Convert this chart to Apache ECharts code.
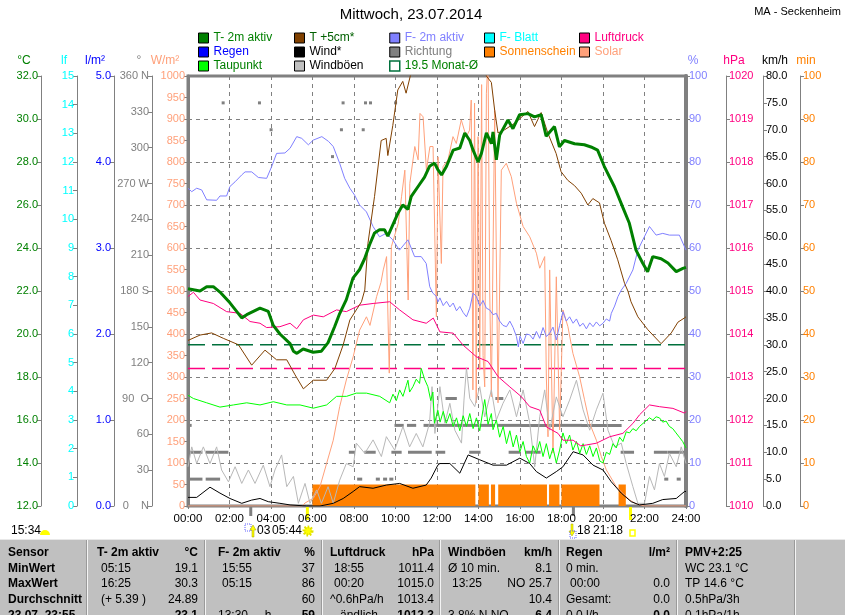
<!DOCTYPE html>
<html>
<head>
<meta charset="utf-8">
<script src="https://cdn.jsdelivr.net/npm/echarts@6.0.0/dist/echarts.min.js"></script>
<style>html,body{margin:0;padding:0;background:#fff}#chart{width:845px;height:615px}</style>
</head>
<body>
<div id="chart"></div>
<script>
const FONT = '"Liberation Sans", Arial, sans-serif';

// Messwerte 23.07.2014, Zeit in Stunden
const t2m = [[0,22.1],[0.58,22.0],[0.9,22.2],[1.22,22.2],[1.54,21.95],[2.02,21.45],[2.59,20.75],[2.83,20.9],[3.47,21.2],[3.87,21.05],[4.11,20.4],[4.43,20.0],[4.92,19.55],[5.08,19.2],[5.25,19.1],[5.55,19.3],[6.03,19.15],[6.43,19.2],[6.75,19.6],[7.07,20.35],[7.31,20.95],[7.63,21.6],[7.95,22.6],[8.27,23.0],[8.51,23.5],[8.75,24.15],[8.99,24.7],[9.23,24.85],[9.47,24.85],[9.63,24.55],[9.79,24.9],[10.11,25.6],[10.35,26.0],[10.6,25.8],[10.76,26.4],[11.08,26.85],[11.4,27.3],[11.64,27.8],[11.88,27.95],[12.04,27.65],[12.22,27.4],[12.46,27.8],[12.78,28.55],[13.1,28.65],[13.34,29.35],[13.58,29.0],[13.74,28.55],[13.98,28.0],[14.14,28.4],[14.38,29.35],[14.62,28.85],[14.7,29.4],[14.86,28.1],[15.02,29.25],[15.42,29.95],[15.66,29.55],[15.98,30.2],[16.38,30.25],[16.42,30.3],[16.7,30.1],[17.02,30.2],[17.26,29.2],[17.66,29.65],[17.9,28.7],[18.14,29.0],[18.63,28.85],[19.1,28.8],[19.42,28.7],[19.74,28.55],[20.06,27.8],[20.55,26.85],[20.95,25.9],[21.27,25.15],[21.59,23.9],[21.91,23.3],[22.15,22.9],[22.4,23.6],[22.8,23.5],[23.13,23.3],[23.53,22.9],[23.85,23.05],[24,23.1]];
const t5cm = [[0,19.7],[0.58,19.95],[1.14,20.05],[1.7,19.8],[2.43,19.5],[3.07,18.55],[3.71,19.25],[4.27,18.8],[4.76,18.8],[5.16,18.1],[5.56,17.45],[6.04,17.85],[6.68,17.85],[7.08,18.4],[7.48,19.5],[7.8,20.65],[8.36,21.5],[8.52,22.05],[8.67,24.2],[8.99,26.4],[9.31,29.0],[9.55,29.1],[9.63,28.3],[9.87,29.7],[10.11,31.35],[10.35,31.75],[10.51,31.2],[10.84,32.5],[11.5,34.5],[12.5,36.0],[13.5,35.0],[14.2,32.6],[14.38,32.0],[14.62,31.7],[14.78,30.4],[14.94,29.35],[15.26,29.5],[15.74,29.8],[16.38,30.35],[16.7,29.65],[17.02,30.3],[17.34,29.35],[17.74,28.4],[17.98,27.55],[18.3,27.15],[18.63,26.9],[18.95,26.55],[19.27,26.0],[19.51,26.3],[19.83,26.1],[20.07,25.15],[20.39,24.35],[20.71,23.45],[21.04,22.35],[21.2,22.0],[21.35,21.5],[21.68,20.8],[22.16,20.2],[22.8,19.55],[23.29,20.05],[23.61,20.55],[23.93,20.75],[24,20.8]];
const taupunkt = [[0,17.15],[0.26,17.0],[0.9,16.8],[1.54,16.6],[2.19,16.7],[2.83,16.8],[3.47,16.7],[4.11,16.85],[4.76,16.7],[5.4,16.7],[6.04,16.55],[6.68,16.7],[7.16,17.1],[7.64,17.1],[8.11,17.25],[8.6,17.25],[9.24,17.1],[9.72,16.8],[9.88,17.2],[10.04,16.9],[10.2,17.4],[10.36,17.1],[10.52,17.6],[10.6,17.85],[10.68,17.3],[10.84,17.55],[11.0,17.9],[11.16,17.7],[11.24,18.4],[11.4,17.9],[11.56,17.55],[11.7,16.9],[11.8,17.3],[11.88,15.85],[12.04,16.45],[12.15,15.9],[12.3,16.4],[12.45,15.85],[12.62,16.3],[12.78,15.7],[12.94,16.1],[13.1,15.5],[13.26,16.2],[13.42,15.7],[13.58,16.3],[13.74,15.6],[13.9,16.1],[14.06,15.5],[14.22,16.5],[14.3,16.95],[14.46,15.8],[14.62,16.3],[14.7,15.55],[14.86,16.0],[15.02,15.2],[15.19,15.7],[15.35,14.9],[15.51,15.5],[15.67,14.75],[15.83,15.3],[15.99,14.5],[16.15,15.0],[16.31,14.3],[16.47,14.0],[16.63,14.8],[16.79,14.45],[16.95,15.0],[17.11,14.3],[17.27,14.9],[17.43,14.2],[17.59,14.7],[17.75,14.0],[17.91,14.6],[18.07,15.4],[18.23,14.9],[18.39,15.3],[18.55,14.6],[18.72,15.0],[18.88,14.45],[19.04,14.9],[19.2,14.4],[19.36,14.8],[19.52,14.3],[19.68,14.7],[19.84,14.1],[20.0,14.0],[20.16,14.5],[20.32,14.4],[20.48,14.9],[20.64,14.7],[20.8,15.2],[20.96,15.0],[21.12,15.45],[21.28,15.4],[21.44,15.6],[21.6,15.5],[21.76,15.7],[22.0,15.9],[22.24,16.1],[22.4,16.0],[22.56,16.15],[22.72,16.1],[22.88,15.9],[23.04,15.95],[23.2,15.7],[23.36,15.6],[23.52,15.4],[23.68,15.2],[23.84,15.0],[24,14.7]];
const feuchte = [[0,73.9],[0.18,73.1],[0.42,73.9],[0.66,73.5],[0.9,71.2],[1.38,71.1],[1.54,72.1],[1.86,72.1],[2.02,74.3],[2.27,75.4],[2.59,77.0],[2.75,77.7],[3.07,77.7],[3.39,76.4],[3.79,76.2],[4.03,78.9],[4.27,82.0],[4.67,82.1],[4.92,83.2],[5.24,85.9],[5.48,85.5],[5.8,84.0],[6.04,85.1],[6.45,85.9],[6.77,84.8],[7.0,83.6],[7.31,79.7],[7.55,76.2],[7.8,73.9],[8.03,72.3],[8.27,70.0],[8.6,68.4],[8.92,65.0],[9.23,62.6],[9.55,63.4],[9.87,61.9],[10.19,59.5],[10.6,61.9],[10.92,58.0],[11.24,58.0],[11.48,56.4],[11.65,51.0],[11.8,49.5],[11.96,48.8],[12.05,47.5],[12.14,48.4],[12.3,46.6],[12.46,47.6],[12.62,46.3],[12.78,47.2],[12.94,45.4],[13.1,46.4],[13.26,45.0],[13.42,44.0],[13.58,46.0],[13.74,49.5],[13.9,48.7],[14.06,46.5],[14.22,47.8],[14.38,46.0],[14.54,45.6],[14.7,44.5],[14.86,44.8],[15.02,43.0],[15.18,42.0],[15.35,41.7],[15.51,43.0],[15.67,41.5],[15.83,39.4],[15.92,37.0],[16.0,39.5],[16.15,37.8],[16.31,40.0],[16.47,39.8],[16.63,38.8],[16.79,40.6],[16.95,39.0],[17.11,41.5],[17.27,39.4],[17.43,40.2],[17.59,41.6],[17.75,38.6],[17.91,42.0],[18.07,45.2],[18.23,43.0],[18.39,44.0],[18.56,42.5],[18.72,43.5],[18.88,41.8],[19.04,42.5],[19.2,41.2],[19.36,42.6],[19.52,41.7],[19.68,42.8],[19.84,41.9],[20.0,42.5],[20.16,43.5],[20.32,43.0],[20.4,44.8],[20.56,46.5],[20.72,48.7],[20.88,50.2],[21.12,51.8],[21.44,54.9],[21.68,59.5],[21.92,61.9],[22.24,65.0],[22.56,63.0],[22.88,63.4],[23.2,63.0],[23.68,63.0],[24,59.5]];
const luftdruck = [[0,1014.87],[0.26,1014.97],[0.58,1014.79],[1.22,1014.71],[1.86,1014.52],[2.51,1014.48],[2.99,1014.29],[3.47,1014.25],[3.79,1014.15],[4.43,1014.17],[4.92,1014.25],[5.24,1014.12],[5.56,1014.33],[6.04,1014.44],[6.52,1014.4],[7.16,1014.56],[7.63,1014.52],[8.27,1014.67],[8.92,1014.71],[9.72,1014.75],[10.2,1014.56],[10.84,1014.33],[11.48,1014.25],[11.82,1014.37],[12.14,1014.05],[12.78,1014.02],[13.26,1013.74],[13.9,1013.47],[14.46,1013.36],[14.94,1013.01],[15.51,1012.77],[16.07,1012.54],[16.47,1012.31],[16.95,1012.23],[17.27,1011.84],[17.83,1011.69],[18.07,1011.53],[18.56,1011.53],[18.92,1011.4],[19.2,1011.42],[19.68,1011.46],[20.32,1011.61],[20.96,1011.69],[21.44,1011.92],[21.76,1012.12],[22.24,1012.35],[22.72,1012.31],[23.37,1012.27],[23.93,1012.16],[24,1012.2]];
const wind = [[0,1.6],[0.42,1.6],[1.06,3.5],[1.54,2.4],[2.02,1.4],[2.59,0.5],[3.07,1.1],[3.47,1.4],[3.87,0.8],[4.43,0.5],[4.92,0.2],[5.72,0],[6.36,0],[7.0,0.5],[7.48,1.4],[7.96,2.7],[8.27,3.6],[8.92,3.3],[9.56,3.9],[10.2,4.2],[10.84,3.3],[11.48,3.9],[11.72,5.2],[12.04,7.6],[12.14,7.9],[12.62,7.9],[13.1,6.1],[13.5,9.5],[14.06,8.6],[14.7,7.6],[15.35,7.6],[15.99,8.9],[16.47,7.9],[16.79,6.4],[17.27,5.2],[17.75,6.4],[18.07,7.3],[18.56,10.1],[19.04,9.5],[19.52,7.6],[20.0,6.7],[20.4,4.5],[20.88,2.4],[21.36,0.8],[21.76,0.2],[22.4,0.5],[22.88,1.2],[23.53,1.4],[23.93,2.7],[24,2.7]];
const windboeen = [[0,7.3],[0.18,11.0],[0.42,7.9],[0.74,11.0],[1.06,7.9],[1.38,11.0],[1.62,6.7],[1.95,4.5],[2.27,7.3],[2.59,4.2],[2.91,6.7],[3.23,4.2],[3.63,7.6],[3.95,3.6],[4.19,6.7],[4.51,9.5],[4.76,3.6],[5.08,5.5],[5.32,0.5],[5.64,4.2],[5.88,0.5],[6.2,3.0],[6.43,0.5],[6.75,3.6],[7.0,0.5],[7.31,4.8],[7.63,7.9],[7.96,7.3],[8.11,11.7],[8.52,9.8],[8.92,12.3],[9.32,9.2],[9.56,12.9],[9.96,10.4],[10.36,14.8],[10.68,11.0],[11.0,13.5],[11.32,11.0],[11.64,15.4],[11.76,22.2],[11.9,13.5],[12.14,22.2],[12.38,15.4],[12.62,19.1],[12.86,14.1],[13.18,11.7],[13.3,19.7],[13.42,25.7],[13.58,20.0],[13.82,18.5],[14.06,22.2],[14.3,16.6],[14.62,21.6],[14.86,16.0],[15.18,19.1],[15.51,21.6],[15.83,16.6],[16.15,21.6],[16.47,15.4],[16.71,7.3],[16.95,16.6],[17.19,21.6],[17.43,14.1],[17.75,20.3],[18.07,16.6],[18.39,19.7],[18.72,23.4],[19.04,17.9],[19.36,14.1],[19.68,17.9],[20.0,21.0],[20.24,14.1],[20.56,11.0],[20.88,11.7],[21.12,7.9],[21.44,3.6],[21.68,0.5],[22.0,0.5],[22.24,5.5],[22.48,3.0],[22.72,7.9],[22.96,5.5],[23.2,9.8],[23.53,7.3],[23.77,11.0],[24,7.9]];
const solar = [[0,0],[5.5,0],[5.64,7],[6.04,18],[6.36,45],[6.68,99],[7.0,153],[7.31,231],[7.63,293],[7.96,347],[8.27,409],[8.6,440],[8.77,420],[9.09,487],[9.3,520],[9.41,549],[9.57,580],[9.7,309],[9.8,603],[10.13,657],[10.29,719],[10.45,781],[10.61,479],[10.69,750],[10.93,836],[11.09,805],[11.18,913],[11.33,905],[11.49,781],[11.66,836],[11.81,836],[11.97,440],[12.05,812],[12.21,564],[12.29,789],[12.53,805],[12.77,859],[12.93,843],[13.17,898],[13.41,859],[13.57,874],[13.65,944],[13.73,270],[13.81,937],[13.89,240],[13.98,859],[14.06,316],[14.15,980],[14.22,350],[14.3,277],[14.38,960],[14.46,1040],[14.54,500],[14.62,254],[14.78,921],[14.94,240],[15.1,781],[15.34,797],[15.58,766],[15.83,704],[16.15,650],[16.47,626],[16.79,588],[16.95,553],[17.19,580],[17.27,300],[17.35,161],[17.43,549],[17.59,123],[17.75,533],[17.91,177],[18.07,456],[18.31,417],[18.55,355],[18.87,301],[19.11,247],[19.36,192],[19.68,153],[19.92,115],[20.16,84],[20.64,45],[21.28,14],[21.6,5],[22.0,0],[24,0]];
// Windrichtung: [von, bis, Grad]
const richtung = [[0.0,0.08,67.5],[0.08,0.6,45],[0.9,1.85,45],[0.08,0.6,22.5],[0.9,1.45,22.5],[1.67,1.67,337.5],[3.42,3.42,337.5],[3.98,3.98,315],[6.94,6.94,292.5],[7.37,7.37,315],[7.45,7.45,337.5],[7.8,7.95,45],[8.55,8.95,45],[9.85,10.2,45],[10.65,11.65,45],[8.2,8.3,22.5],[9.1,9.15,22.5],[9.45,9.5,22.5],[9.75,9.8,22.5],[8.42,8.42,315],[8.53,8.53,337.5],[8.77,8.77,337.5],[9.98,9.98,337.5],[10.0,10.3,67.5],[10.6,10.9,67.5],[11.4,12.0,67.5],[12.1,12.9,67.5],[13.0,13.9,67.5],[14.1,14.7,67.5],[14.95,16.0,67.5],[16.1,17.6,67.5],[17.7,18.9,67.5],[19.0,20.8,67.5],[11.98,12.3,45],[13.6,14.0,45],[15.5,15.9,45],[16.3,16.9,45],[20.9,21.4,45],[22.5,23.0,45],[23.15,23.7,45],[23.85,24.0,45],[12.46,12.86,90],[14.86,15.1,90],[23.0,23.05,22.5],[23.6,23.65,22.5]];
// Sonnenschein: [von, bis, min je 5 min]
const sonne = [[6.0,13.85,5],[14.0,14.5,5],[14.6,14.8,5],[14.95,17.3,5],[17.4,17.9,5],[18.0,19.83,5],[20.75,21.1,5]];
const monatMittelT = 19.5;
const monatMittelP = 1013.2;
const sunRise = 5.73, sunSet = 21.3, moonRise = 3.0, moonSet = 18.55;

const dirLabels = {0: '0    N', 90: '90  O', 180: '180 S', 270: '270 W', 360: '360 N'};

const tabHead = ['Sensor', ['T- 2m aktiv', '°C'], ['F- 2m aktiv', '%'], ['Luftdruck', 'hPa'], ['Windböen', 'km/h'], ['Regen', 'l/m²'], 'PMV+2:25'];
const tabRows = [
  ['MinWert', ['05:15', '19.1'], ['15:55', '37'], ['18:55', '1011.4'], ['Ø 10 min.', '8.1'], ['0 min.', ''], 'WC 23.1 °C'],
  ['MaxWert', ['16:25', '30.3'], ['05:15', '86'], ['00:20', '1015.0'], ['13:25', 'NO 25.7'], ['00:00', '0.0'], 'TP 14.6 °C'],
  ['Durchschnitt', ['(+ 5.39 )', '24.89'], ['', '60'], ['^0.6hPa/h', '1013.4'], ['', '10.4'], ['Gesamt:', '0.0'], '0.5hPa/3h'],
  ['23.07. 23:55', ['', '23.1'], ['13:30  ...h', '59'], ['...ändlich', '1012.3'], ['3.8% N NO', '6.4'], ['0.0 l/h', '0.0'], '0.1hPa/1h']
];

const chart = echarts.init(document.getElementById('chart'));

function yAx(o) {
  return {
    type: 'value', position: o.pos, offset: o.off, min: o.min, max: o.max, interval: o.step,
    axisLine: {show: true, onZero: false, lineStyle: {color: '#808080', width: o.lw || 1}},
    axisTick: {show: true, length: 4, lineStyle: {color: '#808080'}},
    axisLabel: {color: o.color, fontFamily: FONT, fontSize: 11, margin: 3, formatter: o.fmt || (v => String(v))},
    splitLine: {show: !!o.split, lineStyle: {color: '#808080', type: [4, 4]}}
  };
}

function line(name, data, y, color, width, extra) {
  return Object.assign({
    name: name, type: 'line', data: data, yAxisIndex: y, symbol: 'none',
    lineStyle: {color: color, width: width || 1}, itemStyle: {color: color}
  }, extra || {});
}

const legendCols = [
  [['T- 2m aktiv', '#008000', '#008000'], ['Regen', '#0000FF', '#0000FF'], ['Taupunkt', '#00FF00', '#008000']],
  [['T +5cm*', '#804000', '#006000'], ['Wind*', '#000000', '#000000'], ['Windböen', '#C0C0C0', '#000000']],
  [['F- 2m aktiv', '#8080FF', '#8080FF'], ['Richtung', '#808080', '#808080'], ['19.5 Monat-Ø', null, '#008000']],
  [['F- Blatt', '#00FFFF', '#00FFFF'], ['Sonnenschein', '#FF8000', '#FF8000']],
  [['Luftdruck', '#FF0080', '#FF0080'], ['Solar', '#FFA07A', '#FFA07A']]
];
const legendX = [198, 294, 389, 484, 579];

const fmtH = v => String(v).padStart(2, '0') + ':00';

chart.setOption({
  animation: false,
  backgroundColor: '#fff',
  textStyle: {fontFamily: FONT},
  grid: {left: 188, right: 159, top: 76, bottom: 109, show: true, borderColor: '#808080', borderWidth: 3},
  legend: legendCols.map((col, i) => ({
    left: legendX[i], top: 31, orient: 'vertical', padding: 0, itemGap: 0,
    itemWidth: 10, itemHeight: 10, icon: 'rect', selectedMode: false,
    textStyle: {fontFamily: FONT, fontSize: 12, lineHeight: 14},
    data: col.map(c => ({
      name: c[0],
      itemStyle: c[1] ? {color: c[1], borderColor: '#000', borderWidth: 1} : {color: 'rgba(0,0,0,0)', borderColor: '#00703C', borderWidth: 1.5},
      textStyle: {color: c[2]}
    }))
  })),
  xAxis: {
    type: 'value', min: 0, max: 24, interval: 2,
    axisLine: {onZero: false, lineStyle: {color: '#808080', width: 2}},
    axisTick: {show: true, length: 3, lineStyle: {color: '#808080'}},
    axisLabel: {color: '#000', fontFamily: FONT, fontSize: 11.5, margin: 7, formatter: fmtH},
    splitLine: {show: true, lineStyle: {color: '#808080', type: [4, 4]}}
  },
  yAxis: [
    yAx({pos: 'left', off: 147, min: 12, max: 32, step: 2, color: '#008000', fmt: v => v.toFixed(1)}),
    yAx({pos: 'left', off: 111, min: 0, max: 15, step: 1, color: '#00FFFF'}),
    yAx({pos: 'left', off: 74, min: 0, max: 5, step: 1, color: '#0000FF', fmt: v => v.toFixed(1)}),
    yAx({pos: 'left', off: 36, min: 0, max: 360, step: 30, color: '#808080', fmt: v => dirLabels[v] || String(v)}),
    yAx({pos: 'left', off: 0, min: 0, max: 1000, step: 50, color: '#FFA07A', lw: 3}),
    yAx({pos: 'right', off: 0, min: 0, max: 100, step: 10, color: '#8080FF', lw: 4, split: true}),
    yAx({pos: 'right', off: 40, min: 1010, max: 1020, step: 1, color: '#FF0080'}),
    yAx({pos: 'right', off: 77, min: 0, max: 80, step: 5, color: '#000000', fmt: v => v.toFixed(1)}),
    yAx({pos: 'right', off: 114, min: 0, max: 100, step: 10, color: '#FF8000'})
  ],
  series: [
    {
      name: 'Sonnenschein', type: 'custom', yAxisIndex: 8, data: sonne, encode: {x: [0, 1], y: 2},
      itemStyle: {color: '#FF8000'},
      renderItem: (params, api) => {
        const a = api.coord([api.value(0), api.value(2)]);
        const b = api.coord([api.value(1), 0]);
        return {type: 'rect', shape: {x: a[0], y: a[1], width: b[0] - a[0], height: b[1] - a[1]}, style: {fill: '#FF8000'}};
      }
    },
    line('Regen', [], 2, '#0000FF'),
    line('F- Blatt', [], 5, '#00FFFF'),
    line('19.5 Monat-Ø', [[0, monatMittelT], [24, monatMittelT]], 0, '#00703C', 1.5, {lineStyle: {color: '#00703C', width: 1.5, type: [17, 7]}}),
    line('Luftdruck Monat-Ø', [[0, monatMittelP], [24, monatMittelP]], 6, '#FF0080', 1.5, {lineStyle: {color: '#FF0080', width: 1.5, type: [17, 7]}}),
    line('Solar', solar, 4, '#FFA07A'),
    {
      name: 'Richtung', type: 'custom', yAxisIndex: 3, data: richtung, encode: {x: [0, 1], y: 2},
      itemStyle: {color: '#808080'},
      renderItem: (params, api) => {
        const a = api.coord([api.value(0), api.value(2)]);
        const b = api.coord([api.value(1), api.value(2)]);
        return {type: 'rect', shape: {x: a[0] - 1, y: a[1] - 1.5, width: Math.max(b[0] - a[0], 0) + 3, height: 3}, style: {fill: '#808080'}};
      }
    },
    line('Windböen', windboeen, 7, '#B8B8B8'),
    line('Wind*', wind, 7, '#000000'),
    line('Taupunkt', taupunkt, 0, '#00FF00'),
    line('Luftdruck', luftdruck, 6, '#FF0080'),
    line('F- 2m aktiv', feuchte, 5, '#8080FF'),
    line('T +5cm*', t5cm, 0, '#804000'),
    line('T- 2m aktiv', t2m, 0, '#008000', 3)
  ]
});

// Beschriftungen, Auf-/Untergang und Tabelle
const px = h => chart.convertToPixel({xAxisIndex: 0}, h);
const yBase = chart.convertToPixel({yAxisIndex: 0}, 12);
const f12 = '12px ' + FONT, b12 = 'bold 12px ' + FONT;
const g = [];
const txt = (text, x, y, fill, font, align) => g.push({type: 'text', x: x, y: y, silent: true,
  style: {text: text, fill: fill || '#000', font: font || f12, align: align || 'left', verticalAlign: 'middle'}});

txt('Mittwoch, 23.07.2014', 411, 15, '#000', '15px ' + FONT, 'center');
txt('MA - Seckenheim', 841, 12, '#000', '11px ' + FONT, 'right');

[['°C', 24, '#008000'], ['lf', 64, '#00FFFF'], ['l/m²', 95, '#0000FF'], ['°', 139, '#808080'], ['W/m²', 165, '#FFA07A'],
 ['%', 693, '#8080FF'], ['hPa', 734, '#FF0080'], ['km/h', 775, '#000'], ['min', 806, '#FF8000']]
  .forEach(n => txt(n[0], n[1], 61, n[2], f12, 'center'));

// Mond/Sonne Markierungen an der Zeitachse
[[moonRise, '#808080'], [moonSet, '#808080'], [sunRise, '#FFFF00'], [sunSet, '#FFFF00']].forEach(m => {
  g.push({type: 'rect', silent: true, shape: {x: px(m[0]) - 1, y: yBase, width: 3, height: m[1] === '#808080' ? 10 : 14}, style: {fill: m[1]}});
});
txt('15:34', 11, 531);
g.push({type: 'sector', silent: true, shape: {cx: 45, cy: 535, r: 5, startAngle: Math.PI, endAngle: 2 * Math.PI}, style: {fill: '#FFFF00'}});
// Mondaufgang / Sonnenaufgang
g.push({type: 'rect', silent: true, shape: {x: 245, y: 524, width: 6, height: 7}, style: {fill: 'none', stroke: '#6060FF', lineWidth: 1, lineDash: [1, 1]}});
g.push({type: 'polygon', silent: true, shape: {points: [[250, 530], [253, 525], [256, 530], [254, 530], [254, 537], [252, 537], [252, 530]]}, style: {fill: '#FFFF00', stroke: '#A0A000', lineWidth: 0.5}});
txt('03', 257, 531);
txt('05:44', 272, 531);
g.push({type: 'circle', silent: true, shape: {cx: 308, cy: 531, r: 4}, style: {fill: '#FFFF00', stroke: '#E0E000', lineWidth: 3, lineDash: [1.5, 1.5]}});
// Monduntergang / Sonnenuntergang
g.push({type: 'polygon', silent: true, shape: {points: [[569, 531], [572, 536], [575, 531], [573, 531], [573, 524], [571, 524], [571, 531]]}, style: {fill: '#FFFF00', stroke: '#A0A000', lineWidth: 0.5}});
g.push({type: 'rect', silent: true, shape: {x: 570, y: 531, width: 6, height: 7}, style: {fill: 'none', stroke: '#6060FF', lineWidth: 1, lineDash: [1, 1]}});
txt('18', 577, 531);
txt('21:18', 593, 531);
g.push({type: 'rect', silent: true, shape: {x: 630, y: 530, width: 5, height: 6}, style: {fill: 'none', stroke: '#FFFF00', lineWidth: 1.5}});

// Tabelle
g.push({type: 'rect', silent: true, shape: {x: 0, y: 539, width: 845, height: 76}, style: {fill: '#C0C0C0'}});
g.push({type: 'line', silent: true, shape: {x1: 0, y1: 539.5, x2: 845, y2: 539.5}, style: {stroke: '#E8E8E8', lineWidth: 1}});
[87, 205, 322, 440, 559, 677, 795].forEach(x => {
  g.push({type: 'line', silent: true, shape: {x1: x + 0.5, y1: 540, x2: x + 0.5, y2: 615}, style: {stroke: '#F4F4F4', lineWidth: 1}});
  g.push({type: 'line', silent: true, shape: {x1: x - 0.5, y1: 540, x2: x - 0.5, y2: 615}, style: {stroke: '#9A9A9A', lineWidth: 1}});
});
const colL = [97, 218, 330, 448, 566], colR = [198, 315, 434, 552, 670], pmvX = 685;
const rowY = [553, 569, 584, 600, 616];
txt(tabHead[0], 8, rowY[0], '#000', b12);
for (let c = 0; c < 5; c++) {
  txt(tabHead[c + 1][0], colL[c], rowY[0], '#000', b12);
  txt(tabHead[c + 1][1], colR[c], rowY[0], '#000', b12, 'right');
}
txt(tabHead[6], pmvX, rowY[0], '#000', b12);
tabRows.forEach((r, i) => {
  const y = rowY[i + 1], last = i === tabRows.length - 1;
  txt(r[0], 8, y, '#000', b12);
  for (let c = 0; c < 5; c++) {
    const left = r[c + 1][0];
    txt(left, colL[c] + (/^\d\d:\d\d$/.test(left) || left.charAt(0) === '(' ? 4 : 0), y);
    txt(r[c + 1][1], colR[c], y, '#000', last ? b12 : f12, 'right');
  }
  txt(r[6], pmvX, y);
});

chart.setOption({graphic: g});
</script>
</body>
</html>
